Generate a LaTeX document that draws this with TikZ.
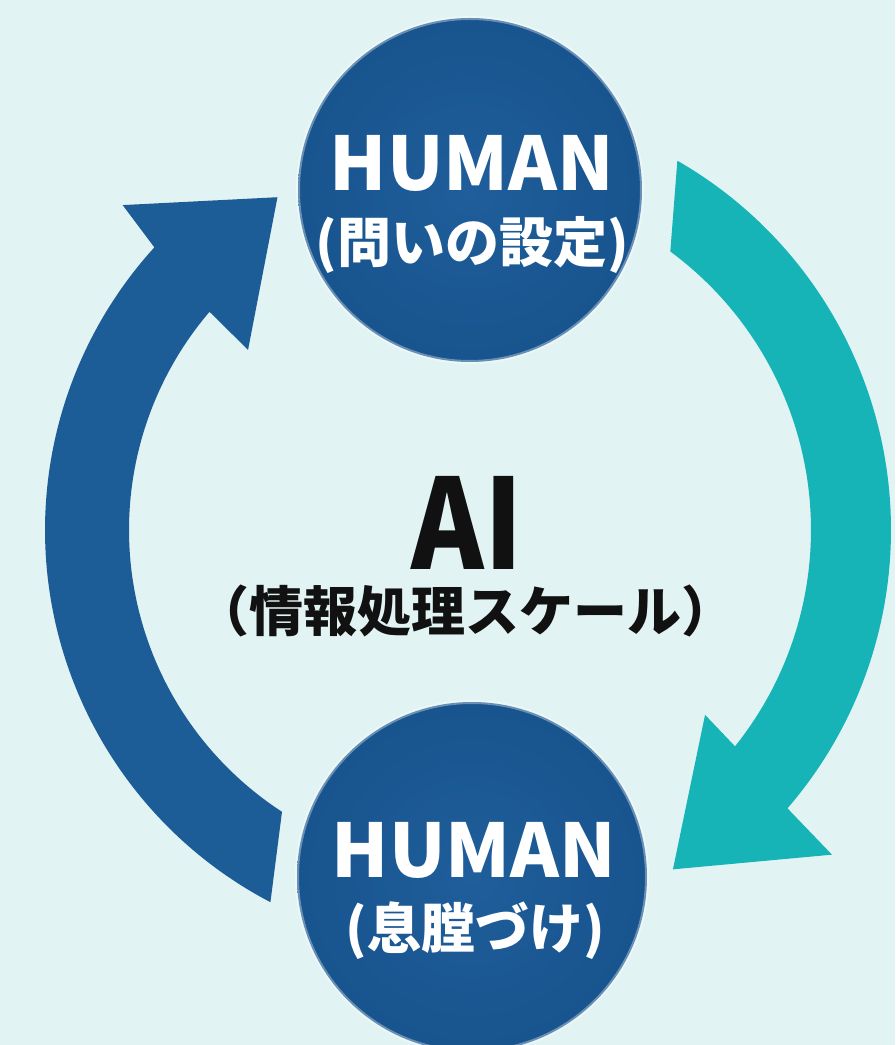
\documentclass[tikz,border=0pt]{standalone}
\usepackage{fontspec}
\newfontfamily\jp{Noto Sans CJK JP}
\definecolor{bgcol}{HTML}{E2F3F3}
\definecolor{navyarrow}{HTML}{1C5C97}
\definecolor{navyin}{HTML}{1F5E9B}
\definecolor{navyout}{HTML}{18548E}
\definecolor{tealarrow}{HTML}{16B4B6}
\definecolor{inkcol}{HTML}{111111}
\begin{document}
\begin{tikzpicture}[x=1pt,y=1pt,
  hcircle/.style={circle, minimum size=344pt, inner sep=0pt, shading=radial, inner color=navyin, outer color=navyout},
  halo/.style={draw=white, draw opacity=0.35, line width=4pt},
  humantxt/.style={text=white, inner sep=0pt, font=\jp\bfseries\fontsize{74}{74}\selectfont},
  subtxt/.style={text=white, inner sep=0pt, font=\jp\bfseries\fontsize{54}{54}\selectfont},
  aitxt/.style={text=inkcol, inner sep=0pt, font=\jp\bfseries\fontsize{125}{125}\selectfont},
  aisub/.style={text=inkcol, inner sep=0pt, font=\jp\bfseries\fontsize{54}{54}\selectfont}]
\useasboundingbox (0,0) rectangle (895,1045);
\fill[bgcol] (0,0) rectangle (895,1045);
\clip (0,0) rectangle (895,1045);
\coordinate (c) at (465,515);
% left (navy) arrow: from bottom circle up to top circle
\fill[navyarrow, shift={(c)}] (242.4:420) arc[start angle=242.4, end angle=137.7, radius=420]
  -- (136.5:472) -- (119.4:382) -- (140.3:282) -- (139.5:336)
  arc[start angle=139.5, end angle=237, radius=336] -- cycle;
% right (teal) arrow: from top circle down to bottom circle
\fill[tealarrow, shift={(c)}] (60.1:426) arc[start angle=60.1, end angle=-40.8, radius=426]
  -- (-41.5:490) -- (-58.5:398) -- (-37.6:303) -- (-38.7:346)
  arc[start angle=-38.7, end angle=53.6, radius=346] -- cycle;
% circles
\node[hcircle, halo] (top) at (470,855) {};
\node[hcircle, halo, minimum size=350pt] (bot) at (472,168) {};
% texts
\node[humantxt] (toph) at (472,882) {HUMAN};
\node[subtxt] (tops) at (472,800) {(問いの設定)};
\node[humantxt] (both) at (474,195) {HUMAN};
\node[subtxt] (bots) at (475,114) {(息膛づけ)};
\node[aitxt] (ai) at (467,522) {\scalebox{0.88}[1]{AI}};
\node[aisub] (ais) at (465,434) {（情報処理スケール）};
\end{tikzpicture}
\end{document}
